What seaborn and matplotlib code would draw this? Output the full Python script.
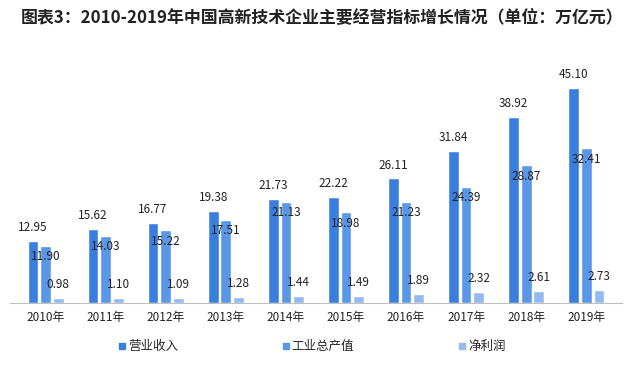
import numpy as np
import pandas as pd
import matplotlib
matplotlib.use("Agg")
import matplotlib.pyplot as plt
from matplotlib.lines import Line2D
import seaborn as sns

years = ["2010年", "2011年", "2012年", "2013年", "2014年",
         "2015年", "2016年", "2017年", "2018年", "2019年"]
revenue = [12.95, 15.62, 16.77, 19.38, 21.73, 22.22, 26.11, 31.84, 38.92, 45.10]
output_value = [11.90, 14.03, 15.22, 17.51, 21.13, 18.98, 21.23, 24.39, 28.87, 32.41]
net_profit = [0.98, 1.10, 1.09, 1.28, 1.44, 1.49, 1.89, 2.32, 2.61, 2.73]
series = ["营业收入", "工业总产值", "净利润"]
colors = ["#3A7FDD", "#5A97E6", "#93BBF0"]

df = pd.DataFrame({
    "year": years * 3,
    "value": revenue + output_value + net_profit,
    "series": [s for s in series for _ in years],
})

sns.set_theme(style="white")
plt.rcParams["font.family"] = ["Noto Sans CJK SC", "DejaVu Sans"]

fig = plt.figure(figsize=(6.35, 3.85), dpi=100)
ax = fig.add_axes([0.015, 0.213, 0.965, 0.605])

sns.barplot(data=df, x="year", y="value", hue="series", palette=colors,
            width=0.63, gap=0.15, ax=ax, legend=False, saturation=1)

# value labels: first and third series above bars, second tucked under its top
offsets = [(5, "bottom"), (-3, "top"), (5, "bottom")]
for cont, (dy, va) in zip(ax.containers, offsets):
    for bar in cont:
        h = bar.get_height()
        ax.annotate(f"{h:.2f}", (bar.get_x() + bar.get_width() / 2, h),
                    xytext=(0, dy), textcoords="offset points",
                    ha="center", va=va, fontsize=8.5, color="#222222")

ax.set_ylim(0, 48.85)
ax.set_xlim(-0.6, 9.6)
ax.set_yticks([])
ax.set_xlabel("")
ax.set_ylabel("")
for s in ["left", "right", "top"]:
    ax.spines[s].set_visible(False)
ax.spines["bottom"].set_color("#BFBFBF")
ax.spines["bottom"].set_linewidth(0.8)
ax.tick_params(axis="x", length=0, pad=6, labelsize=8.5, labelcolor="#222222")

fig.text(0.033, 0.953, "图表3：2010-2019年中国高新技术企业主要经营指标增长情况（单位：万亿元）",
         fontsize=12.2, fontweight="bold", color="#222222", va="center")

handles = [Line2D([], [], marker="s", linestyle="none", markersize=5,
                  color=c) for c in colors]
fig.legend(handles, series, loc="center", bbox_to_anchor=(0.49, 0.1), ncol=3,
           frameon=False, fontsize=9, handletextpad=0.1, columnspacing=8.2,
           handlelength=0.8)

fig.savefig("out.png", dpi=100)
